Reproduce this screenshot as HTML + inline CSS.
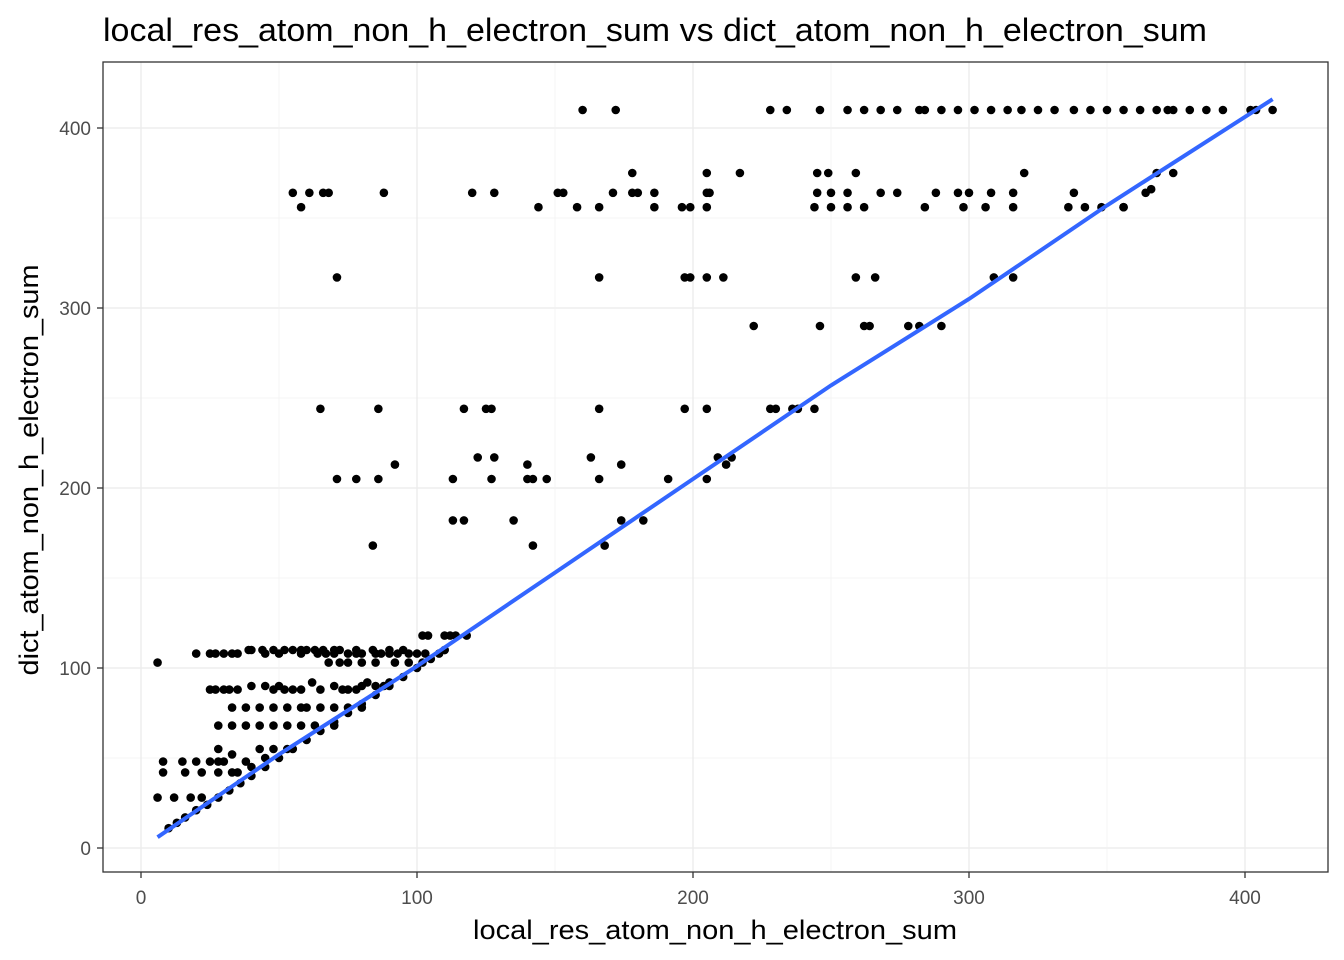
<!DOCTYPE html>
<html><head><meta charset="utf-8">
<style>
body{margin:0;background:#fff;}
svg{display:block;font-family:"Liberation Sans",Arial,sans-serif;}
</style></head>
<body>
<svg id="chart" width="1344" height="960" xmlns="http://www.w3.org/2000/svg">
<text x="103" y="41" font-size="32" textLength="1104" lengthAdjust="spacingAndGlyphs" fill="#000">local_res_atom_non_h_electron_sum vs dict_atom_non_h_electron_sum</text>
<g id="grid"></g>
<g id="pts"></g>
<g id="fit"></g>
<rect x="103" y="62" width="1225" height="810" fill="none" stroke="#333" stroke-width="1.3"/>
<g id="axes"></g>
<text x="473" y="939" font-size="27" textLength="484" lengthAdjust="spacingAndGlyphs">local_res_atom_non_h_electron_sum</text>
<text transform="translate(38,470) rotate(-90)" font-size="27" text-anchor="middle" textLength="411" lengthAdjust="spacingAndGlyphs">dict_atom_non_h_electron_sum</text>
</svg>
<script>
const xTicks=[0,100,200,300,400];
const yTicks=[0,100,200,300,400];
const ptX=[160,172,228,234,246,256,262,268,274,282,284,290,296,302,308,314,319,325,331,338,344,350,356,362,368,372,374,380,386,392,402,404,410,
178,205,217,245,249,259,320,368,374,
55,61,66,68,88,120,128,151,153,171,178,180,186,205,206,245,250,256,268,274,288,296,300,308,316,338,366,364,
58,144,158,166,186,196,199,205,244,250,256,262,284,298,306,316,336,342,348,356,356,
71,166,197,199,205,211,259,266,309,316,
222,246,262,264,278,282,290,
65,86,117,125,127,166,197,205,228,230,236,238,244,
122,128,163,209,214,92,140,174,212,
71,78,86,113,127,140,142,147,191,166,205,
113,117,135,174,182,84,142,168,
102,104,110,112,114,118,
39,40,44,48,52,55,58,60,63,66,70,72,78,84,90,95,
20,25,27,30,33,35,45,50,58,64,67,70,75,78,80,85,87,90,93,97,100,103,108,
6,68,72,75,80,85,92,97,102,110,
25,27,30,32,35,40,45,48,50,52,55,58,62,65,70,73,75,78,80,82,85,88,90,
33,38,43,48,53,58,60,65,70,75,80,
28,33,38,43,48,53,58,63,70,
28,33,38,43,48,53,40,45,
8,15,20,25,28,30,35,8,16,22,28,33,6,12,18,22,
10,13,16,20,24,28,32,36,40,45,50,55,60,65,70,75,80,85,90,95,100,105,110];
const ptY=[410,410,410,410,410,410,410,410,410,410,410,410,410,410,410,410,410,410,410,410,410,410,410,410,410,410,410,410,410,410,410,410,410,
375,375,375,375,375,375,375,375,375,
364,364,364,364,364,364,364,364,364,364,364,364,364,364,364,364,364,364,364,364,364,364,364,364,364,364,366,364,
356,356,356,356,356,356,356,356,356,356,356,356,356,356,356,356,356,356,356,356,356,
317,317,317,317,317,317,317,317,317,317,
290,290,290,290,290,290,290,
244,244,244,244,244,244,244,244,244,244,244,244,244,
217,217,217,217,217,213,213,213,213,
205,205,205,205,205,205,205,205,205,205,205,
182,182,182,182,182,168,168,168,
118,118,118,118,118,118,
110,110,110,110,110,110,110,110,110,110,110,110,110,110,110,110,
108,108,108,108,108,108,108,108,108,108,108,108,108,108,108,108,108,108,108,108,108,108,108,
103,103,103,103,103,103,103,103,103,110,
88,88,88,88,88,90,90,88,90,88,88,88,92,88,90,88,88,88,90,92,90,90,92,
78,78,78,78,78,78,78,78,78,78,78,
68,68,68,68,68,68,68,68,68,
55,52,48,55,55,55,45,50,
48,48,48,48,48,48,42,42,42,42,42,42,28,28,28,28,
11,14,17,21,24,28,32,36,40,45,50,55,60,65,70,75,80,85,90,95,100,105,110];
const fitX=[6,50,100,150,200,250,300,350,410];
const fitY=[6,52,101,153,205,257,305,357,416];
const sx=v=>141+v*2.76, sy=v=>848-v*1.8;
const NS="http://www.w3.org/2000/svg";
const g=document.getElementById('grid');
for(let i=0;i<yTicks.length;i++){
 const l=document.createElementNS(NS,'line');
 
 
 l.setAttribute('x1',103);l.setAttribute('x2',1328);l.setAttribute('y1',sy(yTicks[i]));l.setAttribute('y2',sy(yTicks[i]));
 l.setAttribute('stroke','#ebebeb');l.setAttribute('stroke-width','1.3');g.appendChild(l);
 if(i<yTicks.length-1){const m=document.createElementNS(NS,'line');
 
 
 const v=(yTicks[i]+yTicks[i+1])/2;
 m.setAttribute('x1',103);m.setAttribute('x2',1328);m.setAttribute('y1',sy(v));m.setAttribute('y2',sy(v));
 m.setAttribute('stroke','#f3f3f3');m.setAttribute('stroke-width','0.8');g.appendChild(m);}
}
for(let i=0;i<xTicks.length;i++){
 const l=document.createElementNS(NS,'line');
 
 
 l.setAttribute('y1',62);l.setAttribute('y2',872);l.setAttribute('x1',sx(xTicks[i]));l.setAttribute('x2',sx(xTicks[i]));
 l.setAttribute('stroke','#ebebeb');l.setAttribute('stroke-width','1.3');g.appendChild(l);
 if(i<xTicks.length-1){const m=document.createElementNS(NS,'line');
 
 
 const v=(xTicks[i]+xTicks[i+1])/2;
 m.setAttribute('y1',62);m.setAttribute('y2',872);m.setAttribute('x1',sx(v));m.setAttribute('x2',sx(v));
 m.setAttribute('stroke','#f3f3f3');m.setAttribute('stroke-width','0.8');g.appendChild(m);}
}
const p=document.getElementById('pts');
for(let i=0;i<ptX.length;i++){
 const c=document.createElementNS(NS,'circle');
 
 
 c.setAttribute('cx',sx(ptX[i]));c.setAttribute('cy',sy(ptY[i]));c.setAttribute('r',4.3);c.setAttribute('fill','#000');p.appendChild(c);
}
const f=document.getElementById('fit');
const pl=document.createElementNS(NS,'polyline');


pl.setAttribute('points',fitX.map((v,i)=>sx(v)+','+sy(fitY[i])).join(' '));
pl.setAttribute('fill','none');pl.setAttribute('stroke','#3366ff');pl.setAttribute('stroke-width','4');f.appendChild(pl);
const a=document.getElementById('axes');
xTicks.forEach(v=>{
 const t=document.createElementNS(NS,'line');
 
 
 t.setAttribute('x1',sx(v));t.setAttribute('x2',sx(v));t.setAttribute('y1',872);t.setAttribute('y2',878);t.setAttribute('stroke','#333');t.setAttribute('stroke-width','1.3');a.appendChild(t);
 const s=document.createElementNS(NS,'text');
 
 
 s.setAttribute('x',sx(v));s.setAttribute('y',904);s.setAttribute('text-anchor','middle');s.setAttribute('font-size','19');s.setAttribute('fill','#4d4d4d');s.textContent=v;a.appendChild(s);
});
yTicks.forEach(v=>{
 const t=document.createElementNS(NS,'line');
 
 
 t.setAttribute('x1',97);t.setAttribute('x2',103);t.setAttribute('y1',sy(v));t.setAttribute('y2',sy(v));t.setAttribute('stroke','#333');t.setAttribute('stroke-width','1.3');a.appendChild(t);
 const s=document.createElementNS(NS,'text');
 
 
 s.setAttribute('x',91);s.setAttribute('y',sy(v)+7);s.setAttribute('text-anchor','end');s.setAttribute('font-size','19');s.setAttribute('fill','#4d4d4d');s.textContent=v;a.appendChild(s);
});
</script>
</body></html>
